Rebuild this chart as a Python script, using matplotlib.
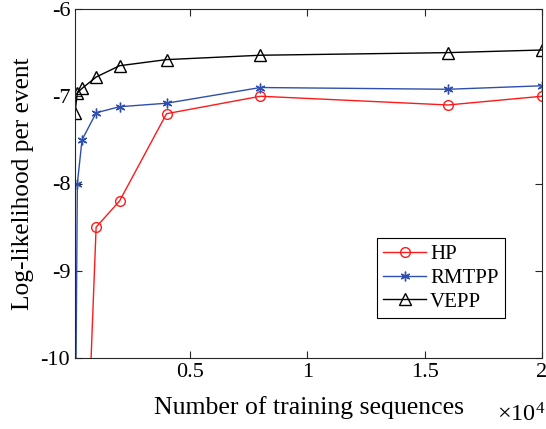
import matplotlib
matplotlib.use('Agg')
import matplotlib.pyplot as plt
import numpy as np

plt.rcParams['font.family'] = 'Liberation Serif'
plt.rcParams['mathtext.fontset'] = 'custom'
plt.rcParams['mathtext.rm'] = 'Liberation Serif'
plt.rcParams['mathtext.it'] = 'Liberation Serif:italic'
plt.rcParams['axes.unicode_minus'] = False

# number of training sequences
n_seq = [100, 200, 400, 1000, 2000, 4000, 8000, 16000, 20000]
hp_x = [400, 1000, 2000, 4000, 8000, 16000, 20000]

# log-likelihood per event
hp = [-12.7, -8.5, -8.2, -7.2, -7.0, -7.1, -7.0]
rmtpp = [-11.7, -8.0, -7.5, -7.19, -7.12, -7.08, -6.9, -6.92, -6.88]
vepp = [-7.19, -6.96, -6.91, -6.78, -6.65, -6.58, -6.53, -6.5, -6.47]

xticks = [5000, 10000, 15000, 20000]
xticklabels = ['0.5', '1', '1.5', '2']
yticks = [-10, -9, -8, -7, -6]

fig = plt.figure(figsize=(5.46, 4.29), dpi=100)
ax = fig.add_axes([75/546, 1-358/429, (542-75)/546, (358-9)/429])

ax.plot(hp_x, hp, color='#ff1a1a', lw=1.0, marker='o', ms=7, mfc='none',
        mew=1.0, label='HP')
ax.plot(n_seq, rmtpp, color='#2f4fb0', lw=1.0, marker=(6, 2, 0), ms=7,
        mew=1.0, label='RMTPP')
ax.plot(n_seq, vepp, color='black', lw=1.0, marker='^', ms=8, mfc='none',
        mew=1.0, label='VEPP')

ax.set_xlim(100, 20000)
ax.set_ylim(-10, -6)
ax.set_xticks(xticks)
ax.set_xticklabels(xticklabels)
ax.set_yticks(yticks)
ax.tick_params(direction='in', top=True, right=True, labelsize=16,
               length=5, width=0.8, colors='#262626')
for t in ax.get_xticklabels() + ax.get_yticklabels():
    t.set_color('black')
for s in ax.spines.values():
    s.set_linewidth(0.8)
    s.set_color('#262626')

ax.set_xlabel('Number of training sequences', fontsize=18.5, labelpad=10)
ax.set_ylabel('Log-likelihood per event', fontsize=18.3, labelpad=5)
fig.text(545/546, 1-427/429, r'$\times10^4$', fontsize=17.5,
         ha='right', va='bottom')

leg = ax.legend(loc='lower right', bbox_to_anchor=(505/546, 1-318/429),
                bbox_transform=fig.transFigure, fontsize=15, fancybox=False,
                edgecolor='black', framealpha=1, borderpad=0.3,
                labelspacing=0.2, handlelength=2.05, handletextpad=0.2,
                borderaxespad=0)
leg.get_frame().set_linewidth(0.8)

fig.savefig('out.png', dpi=100)
